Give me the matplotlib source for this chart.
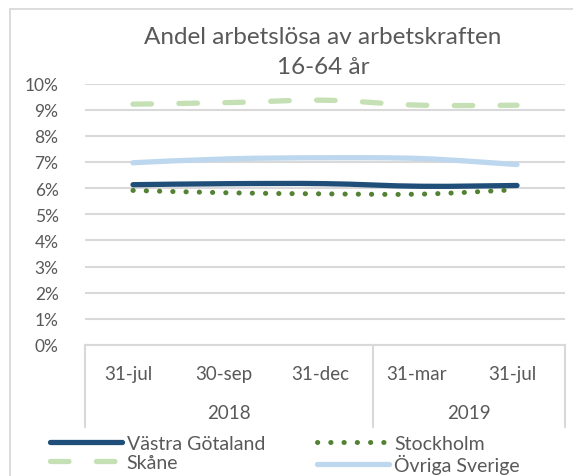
import matplotlib.pyplot as plt
from matplotlib.path import Path
from matplotlib.patches import PathPatch, Rectangle
from matplotlib.lines import Line2D
import matplotlib.transforms as mtransforms

plt.rcParams['font.family'] = ['Lato', 'DejaVu Sans']

# data (andel av arbetskraften, %)
datum = ["31-jul", "30-sep", "31-dec", "31-mar", "31-jul"]
ar = ["2018", "2019"]
ar_antal = [3, 2]
vastra_gotaland = [6.13, 6.17, 6.17, 6.07, 6.10]
stockholm = [5.91, 5.82, 5.78, 5.77, 5.94]
skane = [9.21, 9.27, 9.36, 9.17, 9.17]
ovriga = [6.97, 7.12, 7.16, 7.13, 6.90]

grey = "#595959"
grid = "#D9D9D9"

W, H = 573, 477
fig = plt.figure(figsize=(W / 100, H / 100), dpi=100)

# outer chart border (right/bottom edges fall outside the picture)
fig.patches.append(Rectangle((10 / W, -0.1), 1.2, (H - 10) / H + 0.1,
                             transform=fig.transFigure, fill=False,
                             edgecolor=grid, lw=1.3))

left, right, top, bottom = 85, 565, 84.5, 346
ax = fig.add_axes([left / W, 1 - bottom / H, (right - left) / W, (bottom - top) / H])
ax.set_xlim(-0.5, len(datum) - 0.5)
ax.set_ylim(0, 10)
ax.set_yticks(range(0, 11))
ax.set_yticklabels([f"{v}%" for v in range(0, 11)])
ax.yaxis.grid(True, color=grid, lw=1.5)
ax.set_axisbelow(True)
for s in ["top", "right", "left"]:
    ax.spines[s].set_visible(False)
ax.spines["bottom"].set_color(grid)
ax.spines["bottom"].set_linewidth(1.5)
ax.tick_params(axis="y", length=0, pad=19, labelsize=12.5, labelcolor=grey)
ax.set_xticks([])


def smooth_path(ys):
    # Excel-like smoothed line: cubic Bezier through the points
    pts = list(enumerate(ys))
    n = len(pts)
    verts = [pts[0]]
    codes = [Path.MOVETO]
    for i in range(n - 1):
        p0 = pts[max(i - 1, 0)]
        p1 = pts[i]
        p2 = pts[i + 1]
        p3 = pts[min(i + 2, n - 1)]
        c1 = (p1[0] + (p2[0] - p0[0]) / 6, p1[1] + (p2[1] - p0[1]) / 6)
        c2 = (p2[0] - (p3[0] - p1[0]) / 6, p2[1] - (p3[1] - p1[1]) / 6)
        verts += [c1, c2, p2]
        codes += [Path.CURVE4] * 3
    return Path(verts, codes)


series = [
    ("Västra Götaland", vastra_gotaland, dict(color="#1F4E79", lw=3.8, ls="-")),
    ("Stockholm", stockholm, dict(color="#548235", lw=3.6, ls=(0, (0.05, 2.6)))),
    ("Skåne", skane, dict(color="#C5E0B4", lw=3.8, ls=(0, (3.5, 5.2)))),
    ("Övriga Sverige", ovriga, dict(color="#BDD7EE", lw=3.8, ls="-")),
]

order = [2, 3, 0, 1]
handles = {}
for k in order:
    name, vals, st = series[k]
    patch = PathPatch(smooth_path(vals), fill=False, edgecolor=st["color"],
                      lw=st["lw"], linestyle=st["ls"], capstyle="round",
                      joinstyle="round", zorder=3)
    ax.add_patch(patch)
for name, vals, st in series:
    handles[name] = Line2D([], [], color=st["color"], lw=st["lw"], ls=st["ls"],
                           solid_capstyle="round", dash_capstyle="round")

# multi-level category axis
tr = mtransforms.blended_transform_factory(ax.transData, ax.transAxes)
low = -(428 - bottom) / (bottom - top)
edges = [-0.5]
for a in ar_antal:
    edges.append(edges[-1] + a)
for e in edges:
    ax.plot([e, e], [0, low], transform=tr, color=grid, lw=1.5, clip_on=False)
for i, d in enumerate(datum):
    ax.text(i - 0.05, -(375 - bottom) / (bottom - top), d, transform=tr, ha="center",
            va="center", fontsize=13.5, color=grey)
for j, a in enumerate(ar):
    ax.text((edges[j] + edges[j + 1]) / 2, -(414 - bottom) / (bottom - top), a,
            transform=tr, ha="center", va="center", fontsize=13.5, color=grey)

fig.text(323 / W, 1 - 38 / H, "Andel arbetslösa av arbetskraften", ha="center",
         va="center", fontsize=17.5, color=grey)
fig.text(323 / W, 1 - 68 / H, "16-64 år", ha="center", va="center",
         fontsize=17.5, color=grey)

# column-first fill: rows become (VG, Stockholm), (Skåne, Övriga)
names = ["Västra Götaland", "Skåne", "Stockholm", "Övriga Sverige"]
fig.legend([handles[n] for n in names], names, ncol=2, loc="upper left",
           bbox_to_anchor=(40 / W, 1 - 426 / H), frameon=False, fontsize=14,
           labelcolor=grey, handlelength=3.7, handletextpad=0.25,
           columnspacing=2.7, labelspacing=0.1, borderpad=0)

fig.savefig("out.png", dpi=100)
